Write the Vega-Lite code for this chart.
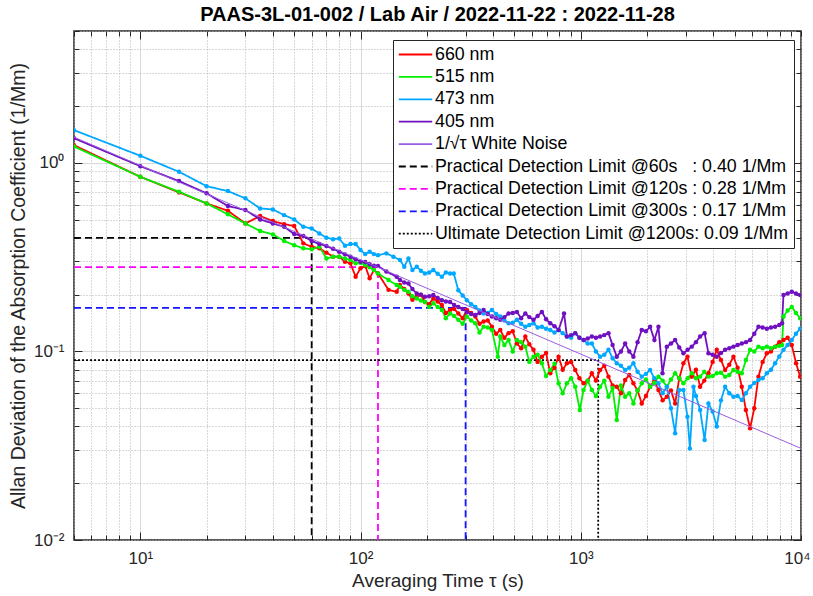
{
"$schema": "https://vega.github.io/schema/vega-lite/v6.json",
"width": 727, "height": 509,
"autosize": {"type": "none"},
"padding": {"left": 74, "top": 31, "right": 12, "bottom": 56},
"background": "white",
"config": {
  "font": "Liberation Sans",
  "view": {"stroke": "#262626", "strokeWidth": 1.5},
  "axis": {"labelFont": "Liberation Sans", "titleFont": "Liberation Sans", "labelColor": "#262626", "titleColor": "#262626", "titleFontWeight": "normal", "domain": false}
},
"title": {"text": "PAAS-3L-01-002 / Lab Air / 2022-11-22 : 2022-11-28", "fontSize": 20, "fontWeight": "bold", "font": "Liberation Sans", "anchor": "middle", "frame": "group", "offset": 9, "dy": 12, "color": "#000000"},
"data": {"values": [
{"s":"Practical Detection Limit @60s\u00a0\u00a0\u00a0: 0.40 1/Mm","t":5,"v":0.40},
{"s":"Practical Detection Limit @60s\u00a0\u00a0\u00a0: 0.40 1/Mm","t":60,"v":0.40},
{"s":"Practical Detection Limit @60s\u00a0\u00a0\u00a0: 0.40 1/Mm","t":60,"v":0.01},
{"s":"Practical Detection Limit @120s : 0.28 1/Mm","t":5,"v":0.28},
{"s":"Practical Detection Limit @120s : 0.28 1/Mm","t":120,"v":0.28},
{"s":"Practical Detection Limit @120s : 0.28 1/Mm","t":120,"v":0.01},
{"s":"Practical Detection Limit @300s : 0.17 1/Mm","t":5,"v":0.17},
{"s":"Practical Detection Limit @300s : 0.17 1/Mm","t":300,"v":0.17},
{"s":"Practical Detection Limit @300s : 0.17 1/Mm","t":300,"v":0.01},
{"s":"Ultimate Detection Limit @1200s: 0.09 1/Mm","t":5,"v":0.09},
{"s":"Ultimate Detection Limit @1200s: 0.09 1/Mm","t":1200,"v":0.09},
{"s":"Ultimate Detection Limit @1200s: 0.09 1/Mm","t":1200,"v":0.01},
{"s":"660 nm","t":5,"v":1.24},{"s":"660 nm","t":10,"v":0.843},{"s":"660 nm","t":15,"v":0.697},{"s":"660 nm","t":20,"v":0.609},{"s":"660 nm","t":25,"v":0.557},{"s":"660 nm","t":30,"v":0.477},{"s":"660 nm","t":35,"v":0.522},{"s":"660 nm","t":40,"v":0.491},{"s":"660 nm","t":45,"v":0.473},{"s":"660 nm","t":50,"v":0.462},{"s":"660 nm","t":55,"v":0.374},{"s":"660 nm","t":60,"v":0.359},{"s":"660 nm","t":65,"v":0.352},{"s":"660 nm","t":70,"v":0.334},{"s":"660 nm","t":75,"v":0.318},{"s":"660 nm","t":80,"v":0.318},{"s":"660 nm","t":85,"v":0.299},{"s":"660 nm","t":90,"v":0.293},{"s":"660 nm","t":95,"v":0.249},{"s":"660 nm","t":100,"v":0.276},{"s":"660 nm","t":105,"v":0.284},{"s":"660 nm","t":110,"v":0.244},{"s":"660 nm","t":115,"v":0.270},{"s":"660 nm","t":120,"v":0.259},{"s":"660 nm","t":134,"v":0.212},{"s":"660 nm","t":146,"v":0.207},{"s":"660 nm","t":151,"v":0.225},{"s":"660 nm","t":165,"v":0.203},{"s":"660 nm","t":180,"v":0.195},{"s":"660 nm","t":196,"v":0.183},{"s":"660 nm","t":214,"v":0.191},{"s":"660 nm","t":234,"v":0.176},{"s":"660 nm","t":255,"v":0.166},{"s":"660 nm","t":278,"v":0.159},{"s":"660 nm","t":304,"v":0.166},{"s":"660 nm","t":332,"v":0.153},{"s":"660 nm","t":362,"v":0.144},{"s":"660 nm","t":395,"v":0.135},{"s":"660 nm","t":431,"v":0.130},{"s":"660 nm","t":470,"v":0.125},{"s":"660 nm","t":513,"v":0.110},{"s":"660 nm","t":560,"v":0.120},{"s":"660 nm","t":610,"v":0.102},{"s":"660 nm","t":666,"v":0.0938},{"s":"660 nm","t":727,"v":0.0765},{"s":"660 nm","t":793,"v":0.0938},{"s":"660 nm","t":865,"v":0.0865},{"s":"660 nm","t":944,"v":0.0797},{"s":"660 nm","t":1030,"v":0.0677},{"s":"660 nm","t":1123,"v":0.0765},{"s":"660 nm","t":1224,"v":0.0797},{"s":"660 nm","t":1336,"v":0.0735},{"s":"660 nm","t":1457,"v":0.065},{"s":"660 nm","t":1590,"v":0.0705},{"s":"660 nm","t":1734,"v":0.0677},{"s":"660 nm","t":1892,"v":0.053},{"s":"660 nm","t":2065,"v":0.065},{"s":"660 nm","t":2253,"v":0.0624},{"s":"660 nm","t":2459,"v":0.0575},{"s":"660 nm","t":2682,"v":0.053},{"s":"660 nm","t":2925,"v":0.0865},{"s":"660 nm","t":3050,"v":0.0938},{"s":"660 nm","t":3192,"v":0.0735},{"s":"660 nm","t":3483,"v":0.065},{"s":"660 nm","t":3800,"v":0.0765},{"s":"660 nm","t":4146,"v":0.102},{"s":"660 nm","t":4523,"v":0.0797},{"s":"660 nm","t":4934,"v":0.0938},{"s":"660 nm","t":5384,"v":0.065},{"s":"660 nm","t":5620,"v":0.0489},{"s":"660 nm","t":5873,"v":0.0391},{"s":"660 nm","t":6409,"v":0.0735},{"s":"660 nm","t":6995,"v":0.0977},{"s":"660 nm","t":7628,"v":0.106},{"s":"660 nm","t":8326,"v":0.115},{"s":"660 nm","t":9080,"v":0.108},{"s":"660 nm","t":9500,"v":0.0865},{"s":"660 nm","t":9910,"v":0.0735},
{"s":"515 nm","t":5,"v":1.22},{"s":"515 nm","t":10,"v":0.843},{"s":"515 nm","t":15,"v":0.702},{"s":"515 nm","t":20,"v":0.609},{"s":"515 nm","t":25,"v":0.533},{"s":"515 nm","t":30,"v":0.477},{"s":"515 nm","t":35,"v":0.435},{"s":"515 nm","t":40,"v":0.417},{"s":"515 nm","t":45,"v":0.385},{"s":"515 nm","t":50,"v":0.366},{"s":"515 nm","t":55,"v":0.352},{"s":"515 nm","t":60,"v":0.348},{"s":"515 nm","t":65,"v":0.359},{"s":"515 nm","t":70,"v":0.311},{"s":"515 nm","t":75,"v":0.318},{"s":"515 nm","t":80,"v":0.318},{"s":"515 nm","t":85,"v":0.311},{"s":"515 nm","t":90,"v":0.305},{"s":"515 nm","t":95,"v":0.293},{"s":"515 nm","t":100,"v":0.295},{"s":"515 nm","t":105,"v":0.287},{"s":"515 nm","t":110,"v":0.279},{"s":"515 nm","t":115,"v":0.270},{"s":"515 nm","t":120,"v":0.259},{"s":"515 nm","t":134,"v":0.239},{"s":"515 nm","t":146,"v":0.225},{"s":"515 nm","t":151,"v":0.220},{"s":"515 nm","t":165,"v":0.207},{"s":"515 nm","t":180,"v":0.191},{"s":"515 nm","t":196,"v":0.183},{"s":"515 nm","t":214,"v":0.180},{"s":"515 nm","t":234,"v":0.166},{"s":"515 nm","t":255,"v":0.159},{"s":"515 nm","t":278,"v":0.147},{"s":"515 nm","t":304,"v":0.153},{"s":"515 nm","t":332,"v":0.141},{"s":"515 nm","t":362,"v":0.135},{"s":"515 nm","t":395,"v":0.130},{"s":"515 nm","t":420,"v":0.0938},{"s":"515 nm","t":431,"v":0.120},{"s":"515 nm","t":470,"v":0.115},{"s":"515 nm","t":513,"v":0.115},{"s":"515 nm","t":560,"v":0.106},{"s":"515 nm","t":610,"v":0.0938},{"s":"515 nm","t":666,"v":0.0865},{"s":"515 nm","t":727,"v":0.0797},{"s":"515 nm","t":793,"v":0.0677},{"s":"515 nm","t":865,"v":0.0677},{"s":"515 nm","t":944,"v":0.065},{"s":"515 nm","t":990,"v":0.0489},{"s":"515 nm","t":1030,"v":0.0624},{"s":"515 nm","t":1123,"v":0.0624},{"s":"515 nm","t":1224,"v":0.065},{"s":"515 nm","t":1336,"v":0.0575},{"s":"515 nm","t":1457,"v":0.0433},{"s":"515 nm","t":1590,"v":0.0575},{"s":"515 nm","t":1734,"v":0.053},{"s":"515 nm","t":1892,"v":0.0677},{"s":"515 nm","t":2065,"v":0.065},{"s":"515 nm","t":2253,"v":0.0735},{"s":"515 nm","t":2459,"v":0.065},{"s":"515 nm","t":2682,"v":0.0765},{"s":"515 nm","t":2925,"v":0.0677},{"s":"515 nm","t":3192,"v":0.0765},{"s":"515 nm","t":3483,"v":0.0735},{"s":"515 nm","t":3800,"v":0.0735},{"s":"515 nm","t":4146,"v":0.0765},{"s":"515 nm","t":4523,"v":0.0735},{"s":"515 nm","t":4934,"v":0.0797},{"s":"515 nm","t":5384,"v":0.0765},{"s":"515 nm","t":5873,"v":0.102},{"s":"515 nm","t":6409,"v":0.106},{"s":"515 nm","t":6995,"v":0.106},{"s":"515 nm","t":7628,"v":0.106},{"s":"515 nm","t":8200,"v":0.108},{"s":"515 nm","t":8326,"v":0.153},{"s":"515 nm","t":9080,"v":0.172},{"s":"515 nm","t":9910,"v":0.150},
{"s":"473 nm","t":5,"v":1.49},{"s":"473 nm","t":10,"v":1.09},{"s":"473 nm","t":15,"v":0.896},{"s":"473 nm","t":20,"v":0.752},{"s":"473 nm","t":25,"v":0.708},{"s":"473 nm","t":30,"v":0.648},{"s":"473 nm","t":35,"v":0.573},{"s":"473 nm","t":40,"v":0.566},{"s":"473 nm","t":45,"v":0.528},{"s":"473 nm","t":50,"v":0.501},{"s":"473 nm","t":55,"v":0.458},{"s":"473 nm","t":60,"v":0.449},{"s":"473 nm","t":65,"v":0.422},{"s":"473 nm","t":70,"v":0.401},{"s":"473 nm","t":75,"v":0.393},{"s":"473 nm","t":80,"v":0.397},{"s":"473 nm","t":85,"v":0.363},{"s":"473 nm","t":90,"v":0.371},{"s":"473 nm","t":95,"v":0.371},{"s":"473 nm","t":100,"v":0.345},{"s":"473 nm","t":105,"v":0.328},{"s":"473 nm","t":110,"v":0.338},{"s":"473 nm","t":115,"v":0.328},{"s":"473 nm","t":120,"v":0.324},{"s":"473 nm","t":131,"v":0.331},{"s":"473 nm","t":141,"v":0.318},{"s":"473 nm","t":151,"v":0.305},{"s":"473 nm","t":158,"v":0.281},{"s":"473 nm","t":165,"v":0.311},{"s":"473 nm","t":172,"v":0.270},{"s":"473 nm","t":180,"v":0.281},{"s":"473 nm","t":196,"v":0.259},{"s":"473 nm","t":214,"v":0.270},{"s":"473 nm","t":234,"v":0.249},{"s":"473 nm","t":255,"v":0.259},{"s":"473 nm","t":265,"v":0.259},{"s":"473 nm","t":278,"v":0.211},{"s":"473 nm","t":304,"v":0.187},{"s":"473 nm","t":332,"v":0.172},{"s":"473 nm","t":362,"v":0.159},{"s":"473 nm","t":395,"v":0.166},{"s":"473 nm","t":431,"v":0.153},{"s":"473 nm","t":470,"v":0.141},{"s":"473 nm","t":513,"v":0.147},{"s":"473 nm","t":560,"v":0.135},{"s":"473 nm","t":610,"v":0.141},{"s":"473 nm","t":666,"v":0.135},{"s":"473 nm","t":727,"v":0.130},{"s":"473 nm","t":793,"v":0.130},{"s":"473 nm","t":865,"v":0.120},{"s":"473 nm","t":944,"v":0.125},{"s":"473 nm","t":1030,"v":0.115},{"s":"473 nm","t":1123,"v":0.110},{"s":"473 nm","t":1224,"v":0.0938},{"s":"473 nm","t":1336,"v":0.102},{"s":"473 nm","t":1457,"v":0.0865},{"s":"473 nm","t":1590,"v":0.0797},{"s":"473 nm","t":1734,"v":0.0865},{"s":"473 nm","t":1892,"v":0.0735},{"s":"473 nm","t":2065,"v":0.0797},{"s":"473 nm","t":2253,"v":0.0677},{"s":"473 nm","t":2459,"v":0.065},{"s":"473 nm","t":2682,"v":0.0368},{"s":"473 nm","t":2800,"v":0.0624},{"s":"473 nm","t":2925,"v":0.0624},{"s":"473 nm","t":3050,"v":0.0451},{"s":"473 nm","t":3130,"v":0.0306},{"s":"473 nm","t":3250,"v":0.065},{"s":"473 nm","t":3483,"v":0.0489},{"s":"473 nm","t":3650,"v":0.0339},{"s":"473 nm","t":3800,"v":0.053},{"s":"473 nm","t":4146,"v":0.04},{"s":"473 nm","t":4523,"v":0.065},{"s":"473 nm","t":4934,"v":0.0575},{"s":"473 nm","t":5384,"v":0.0552},{"s":"473 nm","t":5873,"v":0.065},{"s":"473 nm","t":6409,"v":0.0705},{"s":"473 nm","t":6995,"v":0.0765},{"s":"473 nm","t":7628,"v":0.0865},{"s":"473 nm","t":8326,"v":0.102},{"s":"473 nm","t":9080,"v":0.115},{"s":"473 nm","t":9910,"v":0.132},
{"s":"405 nm","t":5,"v":1.35},{"s":"405 nm","t":10,"v":0.960},{"s":"405 nm","t":15,"v":0.800},{"s":"405 nm","t":20,"v":0.689},{"s":"405 nm","t":25,"v":0.590},{"s":"405 nm","t":30,"v":0.562},{"s":"405 nm","t":35,"v":0.501},{"s":"405 nm","t":40,"v":0.477},{"s":"405 nm","t":45,"v":0.458},{"s":"405 nm","t":50,"v":0.419},{"s":"405 nm","t":55,"v":0.409},{"s":"405 nm","t":60,"v":0.385},{"s":"405 nm","t":65,"v":0.371},{"s":"405 nm","t":70,"v":0.362},{"s":"405 nm","t":75,"v":0.350},{"s":"405 nm","t":80,"v":0.338},{"s":"405 nm","t":85,"v":0.327},{"s":"405 nm","t":90,"v":0.318},{"s":"405 nm","t":95,"v":0.308},{"s":"405 nm","t":100,"v":0.299},{"s":"405 nm","t":105,"v":0.298},{"s":"405 nm","t":110,"v":0.290},{"s":"405 nm","t":115,"v":0.285},{"s":"405 nm","t":120,"v":0.284},{"s":"405 nm","t":131,"v":0.265},{"s":"405 nm","t":146,"v":0.249},{"s":"405 nm","t":151,"v":0.239},{"s":"405 nm","t":165,"v":0.229},{"s":"405 nm","t":180,"v":0.203},{"s":"405 nm","t":196,"v":0.195},{"s":"405 nm","t":214,"v":0.199},{"s":"405 nm","t":234,"v":0.187},{"s":"405 nm","t":255,"v":0.183},{"s":"405 nm","t":278,"v":0.172},{"s":"405 nm","t":304,"v":0.162},{"s":"405 nm","t":332,"v":0.156},{"s":"405 nm","t":362,"v":0.166},{"s":"405 nm","t":395,"v":0.153},{"s":"405 nm","t":431,"v":0.147},{"s":"405 nm","t":470,"v":0.159},{"s":"405 nm","t":513,"v":0.162},{"s":"405 nm","t":560,"v":0.159},{"s":"405 nm","t":610,"v":0.147},{"s":"405 nm","t":666,"v":0.162},{"s":"405 nm","t":727,"v":0.141},{"s":"405 nm","t":793,"v":0.130},{"s":"405 nm","t":840,"v":0.159},{"s":"405 nm","t":865,"v":0.120},{"s":"405 nm","t":944,"v":0.125},{"s":"405 nm","t":1030,"v":0.115},{"s":"405 nm","t":1123,"v":0.120},{"s":"405 nm","t":1224,"v":0.120},{"s":"405 nm","t":1336,"v":0.125},{"s":"405 nm","t":1457,"v":0.0938},{"s":"405 nm","t":1590,"v":0.110},{"s":"405 nm","t":1734,"v":0.0938},{"s":"405 nm","t":1892,"v":0.130},{"s":"405 nm","t":2065,"v":0.135},{"s":"405 nm","t":2160,"v":0.115},{"s":"405 nm","t":2253,"v":0.135},{"s":"405 nm","t":2350,"v":0.0765},{"s":"405 nm","t":2459,"v":0.106},{"s":"405 nm","t":2682,"v":0.115},{"s":"405 nm","t":2925,"v":0.0977},{"s":"405 nm","t":3192,"v":0.106},{"s":"405 nm","t":3483,"v":0.120},{"s":"405 nm","t":3650,"v":0.125},{"s":"405 nm","t":3800,"v":0.0977},{"s":"405 nm","t":4146,"v":0.0938},{"s":"405 nm","t":4523,"v":0.102},{"s":"405 nm","t":4934,"v":0.106},{"s":"405 nm","t":5384,"v":0.110},{"s":"405 nm","t":5873,"v":0.115},{"s":"405 nm","t":6409,"v":0.135},{"s":"405 nm","t":6995,"v":0.132},{"s":"405 nm","t":7628,"v":0.135},{"s":"405 nm","t":8200,"v":0.141},{"s":"405 nm","t":8326,"v":0.199},{"s":"405 nm","t":9080,"v":0.207},{"s":"405 nm","t":9910,"v":0.199},
{"s":"660 nm","t":158,"v":0.214},{"s":"660 nm","t":172,"v":0.188},{"s":"660 nm","t":188,"v":0.200},{"s":"660 nm","t":205,"v":0.178},{"s":"660 nm","t":224,"v":0.184},{"s":"660 nm","t":244,"v":0.160},{"s":"660 nm","t":266,"v":0.168},{"s":"660 nm","t":291,"v":0.150},{"s":"660 nm","t":318,"v":0.160},{"s":"660 nm","t":347,"v":0.140},{"s":"660 nm","t":378,"v":0.146},{"s":"660 nm","t":413,"v":0.124},{"s":"660 nm","t":450,"v":0.118},{"s":"660 nm","t":491,"v":0.128},{"s":"660 nm","t":536,"v":0.104},{"s":"660 nm","t":584,"v":0.109},{"s":"660 nm","t":637,"v":0.088},{"s":"660 nm","t":696,"v":0.098},{"s":"660 nm","t":760,"v":0.082},{"s":"660 nm","t":828,"v":0.080},{"s":"660 nm","t":904,"v":0.088},{"s":"660 nm","t":986,"v":0.072},{"s":"660 nm","t":1075,"v":0.070},{"s":"660 nm","t":1172,"v":0.070},{"s":"660 nm","t":1279,"v":0.084},{"s":"660 nm","t":1395,"v":0.066},{"s":"660 nm","t":1522,"v":0.060},{"s":"660 nm","t":1660,"v":0.075},{"s":"660 nm","t":1811,"v":0.062},{"s":"660 nm","t":1977,"v":0.058},{"s":"660 nm","t":2157,"v":0.070},{"s":"660 nm","t":2354,"v":0.055},{"s":"660 nm","t":2568,"v":0.062},{"s":"660 nm","t":2801,"v":0.072},{"s":"660 nm","t":3334,"v":0.080},{"s":"660 nm","t":3638,"v":0.070},{"s":"660 nm","t":3969,"v":0.088},{"s":"660 nm","t":4330,"v":0.090},{"s":"660 nm","t":4724,"v":0.085},{"s":"660 nm","t":5154,"v":0.082},{"s":"660 nm","t":6135,"v":0.050},{"s":"660 nm","t":6696,"v":0.088},{"s":"660 nm","t":7305,"v":0.100},{"s":"660 nm","t":7970,"v":0.112},{"s":"660 nm","t":8695,"v":0.118},
{"s":"515 nm","t":158,"v":0.212},{"s":"515 nm","t":172,"v":0.196},{"s":"515 nm","t":188,"v":0.186},{"s":"515 nm","t":205,"v":0.172},{"s":"515 nm","t":224,"v":0.172},{"s":"515 nm","t":244,"v":0.150},{"s":"515 nm","t":266,"v":0.154},{"s":"515 nm","t":291,"v":0.140},{"s":"515 nm","t":318,"v":0.146},{"s":"515 nm","t":347,"v":0.126},{"s":"515 nm","t":378,"v":0.134},{"s":"515 nm","t":450,"v":0.108},{"s":"515 nm","t":491,"v":0.100},{"s":"515 nm","t":536,"v":0.112},{"s":"515 nm","t":584,"v":0.088},{"s":"515 nm","t":637,"v":0.096},{"s":"515 nm","t":696,"v":0.074},{"s":"515 nm","t":760,"v":0.086},{"s":"515 nm","t":828,"v":0.060},{"s":"515 nm","t":904,"v":0.072},{"s":"515 nm","t":1075,"v":0.070},{"s":"515 nm","t":1172,"v":0.058},{"s":"515 nm","t":1279,"v":0.070},{"s":"515 nm","t":1395,"v":0.064},{"s":"515 nm","t":1522,"v":0.066},{"s":"515 nm","t":1660,"v":0.060},{"s":"515 nm","t":1811,"v":0.062},{"s":"515 nm","t":1977,"v":0.071},{"s":"515 nm","t":2157,"v":0.068},{"s":"515 nm","t":2354,"v":0.070},{"s":"515 nm","t":2568,"v":0.071},{"s":"515 nm","t":2801,"v":0.072},{"s":"515 nm","t":3056,"v":0.072},{"s":"515 nm","t":3334,"v":0.072},{"s":"515 nm","t":3638,"v":0.078},{"s":"515 nm","t":3969,"v":0.074},{"s":"515 nm","t":4330,"v":0.077},{"s":"515 nm","t":4724,"v":0.075},{"s":"515 nm","t":5154,"v":0.078},{"s":"515 nm","t":5623,"v":0.090},{"s":"515 nm","t":6135,"v":0.100},{"s":"515 nm","t":6696,"v":0.104},{"s":"515 nm","t":7305,"v":0.104},{"s":"515 nm","t":7970,"v":0.107},{"s":"515 nm","t":8695,"v":0.165},{"s":"515 nm","t":9486,"v":0.160},
{"s":"473 nm","t":188,"v":0.268},{"s":"473 nm","t":205,"v":0.262},{"s":"473 nm","t":224,"v":0.258},{"s":"473 nm","t":244,"v":0.262},{"s":"473 nm","t":291,"v":0.198},{"s":"473 nm","t":318,"v":0.178},{"s":"473 nm","t":347,"v":0.165},{"s":"473 nm","t":378,"v":0.160},{"s":"473 nm","t":413,"v":0.158},{"s":"473 nm","t":450,"v":0.146},{"s":"473 nm","t":491,"v":0.142},{"s":"473 nm","t":536,"v":0.140},{"s":"473 nm","t":584,"v":0.138},{"s":"473 nm","t":637,"v":0.134},{"s":"473 nm","t":696,"v":0.132},{"s":"473 nm","t":760,"v":0.126},{"s":"473 nm","t":828,"v":0.125},{"s":"473 nm","t":904,"v":0.118},{"s":"473 nm","t":986,"v":0.118},{"s":"473 nm","t":1075,"v":0.110},{"s":"473 nm","t":1172,"v":0.100},{"s":"473 nm","t":1279,"v":0.096},{"s":"473 nm","t":1395,"v":0.092},{"s":"473 nm","t":1522,"v":0.084},{"s":"473 nm","t":1660,"v":0.082},{"s":"473 nm","t":1811,"v":0.078},{"s":"473 nm","t":1977,"v":0.076},{"s":"473 nm","t":2157,"v":0.072},{"s":"473 nm","t":2354,"v":0.060},{"s":"473 nm","t":2568,"v":0.050},{"s":"473 nm","t":3334,"v":0.058},{"s":"473 nm","t":3969,"v":0.048},{"s":"473 nm","t":4330,"v":0.055},{"s":"473 nm","t":4724,"v":0.060},{"s":"473 nm","t":5154,"v":0.058},{"s":"473 nm","t":5623,"v":0.060},{"s":"473 nm","t":6135,"v":0.068},{"s":"473 nm","t":6696,"v":0.072},{"s":"473 nm","t":7305,"v":0.080},{"s":"473 nm","t":7970,"v":0.094},{"s":"473 nm","t":8695,"v":0.108},{"s":"473 nm","t":9486,"v":0.124},
{"s":"405 nm","t":158,"v":0.232},{"s":"405 nm","t":172,"v":0.214},{"s":"405 nm","t":188,"v":0.200},{"s":"405 nm","t":205,"v":0.196},{"s":"405 nm","t":224,"v":0.192},{"s":"405 nm","t":244,"v":0.184},{"s":"405 nm","t":266,"v":0.176},{"s":"405 nm","t":291,"v":0.168},{"s":"405 nm","t":318,"v":0.158},{"s":"405 nm","t":347,"v":0.160},{"s":"405 nm","t":378,"v":0.158},{"s":"405 nm","t":413,"v":0.150},{"s":"405 nm","t":450,"v":0.152},{"s":"405 nm","t":491,"v":0.160},{"s":"405 nm","t":536,"v":0.150},{"s":"405 nm","t":584,"v":0.152},{"s":"405 nm","t":637,"v":0.154},{"s":"405 nm","t":696,"v":0.148},{"s":"405 nm","t":760,"v":0.136},{"s":"405 nm","t":904,"v":0.122},{"s":"405 nm","t":986,"v":0.118},{"s":"405 nm","t":1075,"v":0.117},{"s":"405 nm","t":1172,"v":0.118},{"s":"405 nm","t":1279,"v":0.122},{"s":"405 nm","t":1395,"v":0.108},{"s":"405 nm","t":1522,"v":0.100},{"s":"405 nm","t":1660,"v":0.100},{"s":"405 nm","t":1811,"v":0.112},{"s":"405 nm","t":1977,"v":0.128},{"s":"405 nm","t":2568,"v":0.110},{"s":"405 nm","t":2801,"v":0.105},{"s":"405 nm","t":3056,"v":0.102},{"s":"405 nm","t":3334,"v":0.112},{"s":"405 nm","t":3969,"v":0.096},{"s":"405 nm","t":4330,"v":0.098},{"s":"405 nm","t":4724,"v":0.104},{"s":"405 nm","t":5154,"v":0.108},{"s":"405 nm","t":5623,"v":0.112},{"s":"405 nm","t":6135,"v":0.124},{"s":"405 nm","t":6696,"v":0.134},{"s":"405 nm","t":7305,"v":0.134},{"s":"405 nm","t":7970,"v":0.138},{"s":"405 nm","t":8695,"v":0.203},{"s":"405 nm","t":9486,"v":0.203},
{"s":"1/√τ White Noise","t":5,"v":1.368},
{"s":"1/√τ White Noise","t":10000,"v":0.0306}
]},
"resolve": {"axis": {"x": "independent", "y": "independent"}},
"layer": [
{
  "transform": [{"filter": "datum.s != '1/√τ White Noise'"}],
  "mark": {"type": "line", "clip": true},
  "encoding": {
    "x": {"field": "t", "type": "quantitative", "scale": {"type": "log", "domain": [5, 10000], "nice": false},
      "axis": {"orient": "bottom", "values": [5,6,7,8,9,10,20,30,40,50,60,70,80,90,100,200,300,400,500,600,700,800,900,1000,2000,3000,4000,5000,6000,7000,8000,9000,10000],
        "ticks": false, "grid": true, "gridWidth": 1,
        "gridColor": {"condition": {"test": "datum.value==10||datum.value==100||datum.value==1000", "value": "#d9d9d9"}, "value": "#b3b3b3"},
        "gridDash": {"condition": {"test": "datum.value==10||datum.value==100||datum.value==1000", "value": []}, "value": [1, 2]},
        "labelExpr": "datum.value==10?'10¹':datum.value==100?'10²':datum.value==1000?'10³':datum.value==10000?'10⁴':''",
        "labelOverlap": false, "labelFlush": true, "labelFlushOffset": 9, "labelFontSize": 17, "labelPadding": 10,
        "title": "Averaging Time τ (s)", "titleFontSize": 19, "titlePadding": 5}},
    "y": {"field": "v", "type": "quantitative", "scale": {"type": "log", "domain": [0.01, 5], "nice": false},
      "axis": {"orient": "left", "values": [0.01,0.02,0.03,0.04,0.05,0.06,0.07,0.08,0.09,0.1,0.2,0.3,0.4,0.5,0.6,0.7,0.8,0.9,1,2,3,4,5],
        "ticks": false, "grid": true, "gridWidth": 1,
        "gridColor": {"condition": {"test": "datum.value==1||datum.value==0.1", "value": "#d9d9d9"}, "value": "#b3b3b3"},
        "gridDash": {"condition": {"test": "datum.value==1||datum.value==0.1", "value": []}, "value": [1, 2]},
        "labelExpr": "datum.value==1?'10⁰':datum.value==0.1?'10⁻¹':datum.value==0.01?'10⁻²':''",
        "labelOverlap": false, "labelFlush": false, "labelFontSize": 17, "labelPadding": 10,
        "title": "Allan Deviation of the Absorption Coefficient (1/Mm)", "titleFontSize": 19.5, "titlePadding": 5}},
    "color": {"field": "s", "type": "nominal",
      "scale": {"domain": ["660 nm","515 nm","473 nm","405 nm","1/√τ White Noise","Practical Detection Limit @60s\u00a0\u00a0\u00a0: 0.40 1/Mm","Practical Detection Limit @120s : 0.28 1/Mm","Practical Detection Limit @300s : 0.17 1/Mm","Ultimate Detection Limit @1200s: 0.09 1/Mm"],
        "range": ["#ff0000","#00f000","#00a8ff","#7010c0","#9a5ce0","#000000","#ff00ff","#1515ff","#000000"]},
      "legend": {"title": null, "orient": "none", "legendX": 319, "legendY": 9, "symbolType": "M-2,0H2", "symbolSize": 280, "symbolOffset": 8,
        "labelFontSize": 17.8, "labelFont": "Liberation Sans", "labelColor": "#000000", "labelLimit": 440, "labelOffset": 10,
        "strokeColor": "#262626", "fillColor": "white", "padding": 5, "rowPadding": 3.4}},
    "strokeDash": {"field": "s", "type": "nominal",
      "scale": {"domain": ["660 nm","515 nm","473 nm","405 nm","1/√τ White Noise","Practical Detection Limit @60s\u00a0\u00a0\u00a0: 0.40 1/Mm","Practical Detection Limit @120s : 0.28 1/Mm","Practical Detection Limit @300s : 0.17 1/Mm","Ultimate Detection Limit @1200s: 0.09 1/Mm"],
        "range": [[1,0],[1,0],[1,0],[1,0],[1,0],[7,4],[7,4],[7,4],[2,2]]}},
    "strokeWidth": {"field": "s", "type": "nominal",
      "scale": {"domain": ["660 nm","515 nm","473 nm","405 nm","1/√τ White Noise","Practical Detection Limit @60s\u00a0\u00a0\u00a0: 0.40 1/Mm","Practical Detection Limit @120s : 0.28 1/Mm","Practical Detection Limit @300s : 0.17 1/Mm","Ultimate Detection Limit @1200s: 0.09 1/Mm"],
        "range": [1.8,1.8,1.8,1.8,1,1.5,1.5,1.5,2.2]}}
  }
},
{
  "transform": [{"filter": {"field": "s", "oneOf": ["660 nm","515 nm","473 nm","405 nm"]}}],
  "mark": {"type": "circle", "size": 20, "opacity": 1, "clip": true},
  "encoding": {
    "x": {"field": "t", "type": "quantitative", "scale": {"type": "log", "domain": [5, 10000], "nice": false},
      "axis": {"orient": "bottom", "values": [5,6,7,8,9,10,20,30,40,50,60,70,80,90,100,200,300,400,500,600,700,800,900,1000,2000,3000,4000,5000,6000,7000,8000,9000,10000],
        "labels": false, "grid": false, "domain": false, "title": null, "ticks": true, "tickColor": "#262626", "tickWidth": 1,
        "tickSize": {"condition": {"test": "datum.value==10||datum.value==100||datum.value==1000", "value": -8}, "value": -5}}},
    "y": {"field": "v", "type": "quantitative", "scale": {"type": "log", "domain": [0.01, 5], "nice": false},
      "axis": {"orient": "left", "values": [0.01,0.02,0.03,0.04,0.05,0.06,0.07,0.08,0.09,0.1,0.2,0.3,0.4,0.5,0.6,0.7,0.8,0.9,1,2,3,4,5],
        "labels": false, "grid": false, "domain": false, "title": null, "ticks": true, "tickColor": "#262626", "tickWidth": 1,
        "tickSize": {"condition": {"test": "datum.value==1||datum.value==0.1||datum.value==0.01", "value": -8}, "value": -5}}},
    "color": {"field": "s", "type": "nominal",
      "scale": {"domain": ["660 nm","515 nm","473 nm","405 nm","1/√τ White Noise","Practical Detection Limit @60s\u00a0\u00a0\u00a0: 0.40 1/Mm","Practical Detection Limit @120s : 0.28 1/Mm","Practical Detection Limit @300s : 0.17 1/Mm","Ultimate Detection Limit @1200s: 0.09 1/Mm"],
        "range": ["#ff0000","#00f000","#00a8ff","#7010c0","#9a5ce0","#000000","#ff00ff","#1515ff","#000000"]},
      "legend": null}
  }
},
{
  "transform": [{"filter": "datum.s == '1/√τ White Noise'"}],
  "mark": {"type": "line", "clip": true, "strokeWidth": 1},
  "encoding": {
    "x": {"field": "t", "type": "quantitative", "scale": {"type": "log", "domain": [5, 10000], "nice": false},
      "axis": {"orient": "top", "values": [5,6,7,8,9,10,20,30,40,50,60,70,80,90,100,200,300,400,500,600,700,800,900,1000,2000,3000,4000,5000,6000,7000,8000,9000,10000],
        "labels": false, "grid": false, "domain": false, "title": null, "ticks": true, "tickColor": "#262626", "tickWidth": 1,
        "tickSize": {"condition": {"test": "datum.value==10||datum.value==100||datum.value==1000", "value": -8}, "value": -5}}},
    "y": {"field": "v", "type": "quantitative", "scale": {"type": "log", "domain": [0.01, 5], "nice": false},
      "axis": {"orient": "right", "values": [0.01,0.02,0.03,0.04,0.05,0.06,0.07,0.08,0.09,0.1,0.2,0.3,0.4,0.5,0.6,0.7,0.8,0.9,1,2,3,4,5],
        "labels": false, "grid": false, "domain": false, "title": null, "ticks": true, "tickColor": "#262626", "tickWidth": 1,
        "tickSize": {"condition": {"test": "datum.value==1||datum.value==0.1||datum.value==0.01", "value": -8}, "value": -5}}},
    "color": {"field": "s", "type": "nominal",
      "scale": {"domain": ["660 nm","515 nm","473 nm","405 nm","1/√τ White Noise","Practical Detection Limit @60s\u00a0\u00a0\u00a0: 0.40 1/Mm","Practical Detection Limit @120s : 0.28 1/Mm","Practical Detection Limit @300s : 0.17 1/Mm","Ultimate Detection Limit @1200s: 0.09 1/Mm"],
        "range": ["#ff0000","#00f000","#00a8ff","#7010c0","#9a5ce0","#000000","#ff00ff","#1515ff","#000000"]},
      "legend": null}
  }
}
]
}
